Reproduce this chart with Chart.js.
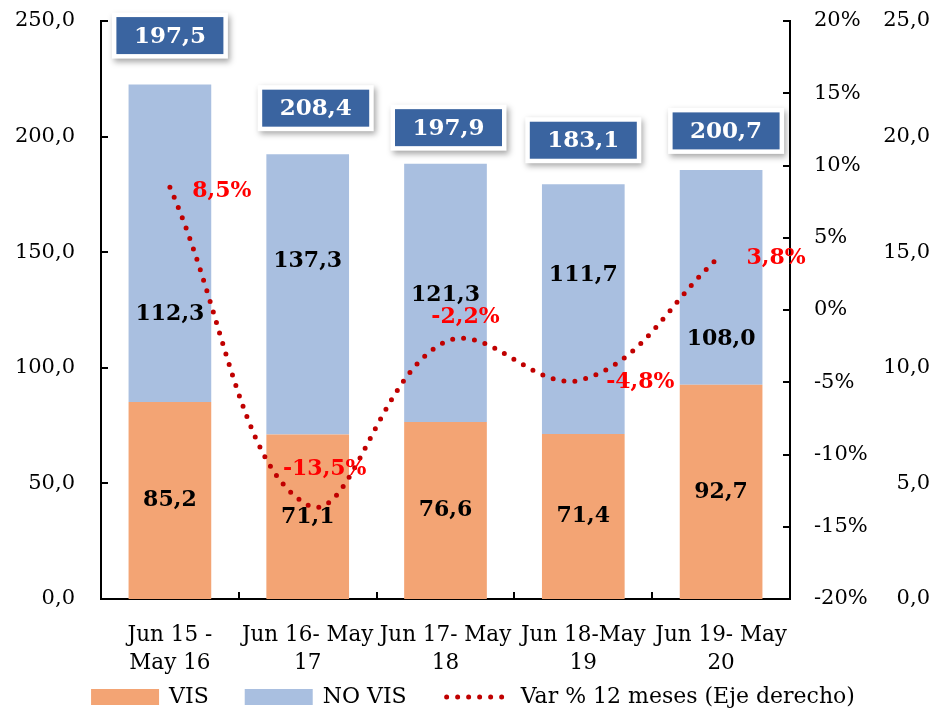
<!DOCTYPE html>
<html>
<head>
<meta charset="utf-8">
<title>VIS / NO VIS</title>
<script src="https://cdn.jsdelivr.net/npm/chart.js"></script>
<style>
    html, body { margin: 0; padding: 0; background: #fff; }
</style>
</head>
<body>
<canvas id="chart" width="934" height="711"></canvas>
<script>
    // Data
    const categories = [['Jun 15 -', 'May 16'], ['Jun 16- May', '17'], ['Jun 17- May', '18'], ['Jun 18-May', '19'], ['Jun 19- May', '20']];
    const vis = [85.2, 71.1, 76.6, 71.4, 92.7];
    // height of the blue segment as it is drawn in the picture
    const noVis = [137.3, 121.3, 111.7, 108.0, 92.9];
    // numbers printed on the blue segments and in the boxes
    const noVisLabels = [112.3, 137.3, 121.3, 111.7, 108.0];
    const totals = [197.5, 208.4, 197.9, 183.1, 200.7];
    const varPct = [8.5, -13.5, -2.2, -4.8, 3.8];

    const FONT = "'DejaVu Serif', serif";
    const fmt = v => Number(v).toFixed(1).replace('.', ',');
    const pct = v => Number(v).toFixed(1).replace('.', ',') + '%';

    // label placement tweaks (pixels)
    const noVisLabelShift = [71, -33, 3, -34, 62];
    const pctLabelShift = [[52, 4], [17, -36], [20, -25], [57, 3], [55, 3]];
    const boxShift = [[0, -49], [8, -46], [3, -36], [0, -44], [5, -39]];

    const extras = {
        id: 'extras',
        afterDatasetsDraw(chart) {
            const ctx = chart.ctx;
            const visMeta = chart.getDatasetMeta(0);
            const noMeta = chart.getDatasetMeta(1);
            const lineMeta = chart.getDatasetMeta(2);
            ctx.save();
            ctx.textAlign = 'center';
            ctx.textBaseline = 'middle';
            ctx.fillStyle = '#000';
            ctx.font = 'bold 22px ' + FONT;
            visMeta.data.forEach((bar, i) => {
                ctx.fillText(fmt(vis[i]), bar.x, (bar.y + bar.base) / 2);
            });
            noMeta.data.forEach((bar, i) => {
                ctx.fillText(fmt(noVisLabels[i]), bar.x, (bar.y + bar.base) / 2 + noVisLabelShift[i]);
            });
            ctx.fillStyle = '#FF0000';
            lineMeta.data.forEach((pt, i) => {
                ctx.fillText(pct(varPct[i]), pt.x + pctLabelShift[i][0], pt.y + pctLabelShift[i][1]);
            });

            // total boxes above the bars
            noMeta.data.forEach((bar, i) => {
                const cx = bar.x + boxShift[i][0], cy = bar.y + boxShift[i][1];
                ctx.save();
                ctx.shadowColor = 'rgba(0,0,0,0.35)';
                ctx.shadowBlur = 6;
                ctx.shadowOffsetX = 2;
                ctx.shadowOffsetY = 3;
                ctx.fillStyle = '#fff';
                ctx.fillRect(cx - 58, cy - 23, 116, 46);
                ctx.restore();
                ctx.fillStyle = '#3A64A0';
                ctx.fillRect(cx - 53.5, cy - 18.5, 107, 37);
                ctx.fillStyle = '#fff';
                ctx.font = 'bold 23px ' + FONT;
                ctx.fillText(fmt(totals[i]), cx, cy + 1);
            });
            ctx.restore();
        },
        afterDraw(chart) {
            const ctx = chart.ctx;
            const area = chart.chartArea;
            const y = chart.scales.y, y2 = chart.scales.y2, x = chart.scales.x;
            ctx.save();
            ctx.strokeStyle = '#000';
            ctx.lineWidth = 2;
            ctx.beginPath();
            // inside tick marks
            y.ticks.forEach(t => {
                const py = Math.round(y.getPixelForValue(t.value));
                ctx.moveTo(area.left, py); ctx.lineTo(area.left + 7, py);
            });
            y2.ticks.forEach(t => {
                const py = Math.round(y2.getPixelForValue(t.value));
                ctx.moveTo(area.right - 7, py); ctx.lineTo(area.right, py);
            });
            for (let i = 0; i < categories.length - 1; i++) {
                const px = Math.round((x.getPixelForValue(i) + x.getPixelForValue(i + 1)) / 2);
                ctx.moveTo(px, area.bottom); ctx.lineTo(px, area.bottom - 7);
            }
            ctx.stroke();

            // legend
            const ly = 697;
            ctx.font = '22px ' + FONT;
            ctx.textBaseline = 'middle';
            ctx.textAlign = 'left';
            const items = chart.data.datasets.map(d => d.label);
            const widths = items.map(s => ctx.measureText(s).width);
            const sample = 68, gapIn = 10, gapOut = 36;
            let total = 0;
            widths.forEach(w => total += sample + gapIn + w);
            total += gapOut * (items.length - 1);
            let lx = chart.width / 2 + 6 - total / 2;
            chart.data.datasets.forEach((d, i) => {
                if (d.type === 'line') {
                    ctx.save();
                    ctx.strokeStyle = d.borderColor;
                    ctx.lineWidth = d.borderWidth;
                    ctx.lineCap = 'round';
                    ctx.setLineDash(d.borderDash);
                    ctx.beginPath();
                    ctx.moveTo(lx + 4, ly); ctx.lineTo(lx + sample, ly);
                    ctx.stroke();
                    ctx.restore();
                } else {
                    ctx.fillStyle = d.backgroundColor;
                    ctx.fillRect(lx, ly - 8, sample, 16);
                }
                ctx.fillStyle = '#000';
                ctx.fillText(items[i], lx + sample + gapIn, ly);
                lx += sample + gapIn + widths[i] + gapOut;
            });
            ctx.restore();
        }
    };

    const tickFont = { family: FONT, size: 21 };
    // fixed axis widths; drop the label padding Chart.js adds above/below vertical axes
    const fixWidth = w => s => { s.width = w; s.paddingTop = 0; s.paddingBottom = 0; };

    const ctx = document.getElementById('chart').getContext('2d');
    new Chart(ctx, {
        type: 'bar',
        data: {
            labels: categories,
            datasets: [
                {
                    label: 'VIS',
                    data: vis,
                    backgroundColor: '#F3A474',
                    yAxisID: 'y',
                    stack: 's',
                    order: 2
                },
                {
                    label: 'NO VIS',
                    data: noVis,
                    backgroundColor: '#A9BFE0',
                    yAxisID: 'y',
                    stack: 's',
                    order: 2
                },
                {
                    type: 'line',
                    label: 'Var % 12 meses (Eje derecho)',
                    data: varPct,
                    yAxisID: 'y2',
                    borderColor: '#C00000',
                    borderWidth: 5,
                    borderDash: [0, 11],
                    borderCapStyle: 'round',
                    pointRadius: 0,
                    tension: 0.4,
                    fill: false,
                    order: 1
                }
            ]
        },
        options: {
            responsive: false,
            animation: false,
            devicePixelRatio: 1,
            layout: { padding: { top: 21, right: 4, bottom: 22, left: 0 } },
            datasets: { bar: { categoryPercentage: 1, barPercentage: 0.6 } },
            plugins: {
                legend: { display: false },
                tooltip: { enabled: false }
            },
            scales: {
                x: {
                    stacked: true,
                    grid: { display: false, drawTicks: false },
                    border: { color: '#000', width: 2 },
                    ticks: {
                        color: '#000',
                        font: { family: FONT, size: 21.5, lineHeight: 1.27 },
                        padding: 23,
                        maxRotation: 0,
                        autoSkip: false
                    },
                    afterFit: s => { s.height = 90; }
                },
                y: {
                    stacked: true,
                    position: 'left',
                    min: 0,
                    max: 250,
                    grid: { display: false, drawTicks: false },
                    border: { color: '#000', width: 2 },
                    ticks: {
                        stepSize: 50,
                        padding: 26,
                        color: '#000',
                        font: tickFont,
                        callback: v => fmt(v)
                    },
                    afterFit: fixWidth(101)
                },
                y2: {
                    position: 'right',
                    min: -20,
                    max: 20,
                    grid: { display: false, drawTicks: false },
                    border: { color: '#000', width: 2 },
                    ticks: {
                        stepSize: 5,
                        padding: 24,
                        color: '#000',
                        font: tickFont,
                        callback: v => v + '%'
                    },
                    afterFit: fixWidth(90)
                },
                y3: {
                    position: 'right',
                    min: 0,
                    max: 25,
                    grid: { display: false, drawTicks: false },
                    border: { display: false },
                    ticks: {
                        stepSize: 5,
                        padding: 4,
                        crossAlign: 'far',
                        color: '#000',
                        font: tickFont,
                        callback: v => fmt(v)
                    },
                    afterFit: fixWidth(50)
                }
            }
        },
        plugins: [extras]
    });
</script>
</body>
</html>
